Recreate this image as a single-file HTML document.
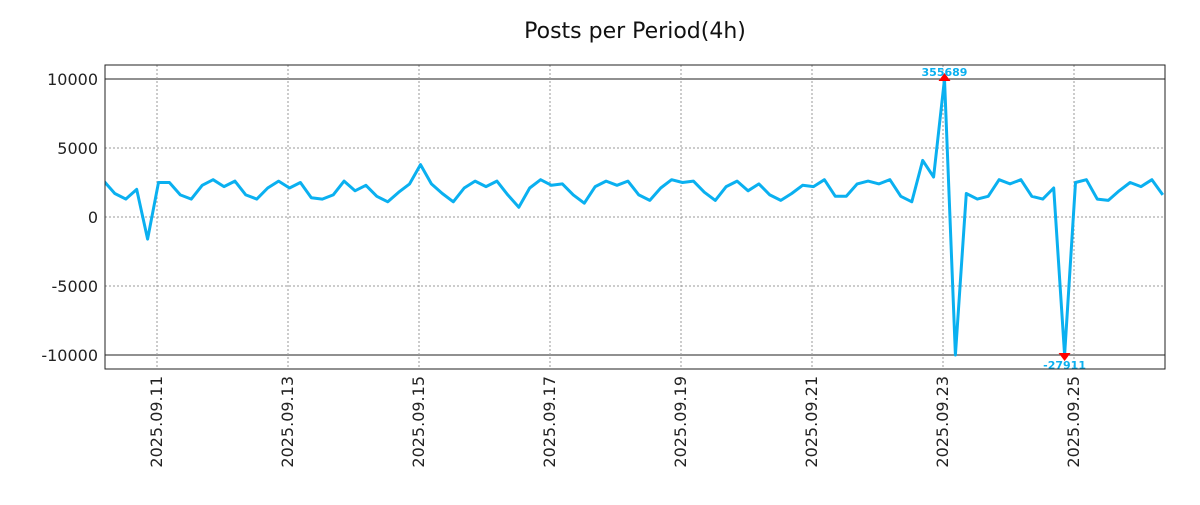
<!DOCTYPE html>
<html><head><meta charset="utf-8"><style>
body{margin:0;background:#fff;}
svg{font-family:"DejaVu Sans","Liberation Sans",sans-serif;}
</style></head><body>
<svg id="chart" width="1200" height="500" xmlns="http://www.w3.org/2000/svg">
<text x="635" y="38" text-anchor="middle" font-size="22" fill="#111">Posts per Period(4h)</text>
<g id="grid"></g><g id="series"></g><g id="axes"></g>
</svg>
<script>
const values=[2600,1700,1300,2000,-1600,2500,2500,1600,1300,2300,2700,2200,2600,1600,1300,2100,2600,2100,2500,1400,1300,1600,2600,1900,2300,1500,1100,1800,2400,3800,2400,1700,1100,2100,2600,2200,2600,1600,700,2100,2700,2300,2400,1600,1000,2200,2600,2300,2600,1600,1200,2100,2700,2500,2600,1800,1200,2200,2600,1900,2400,1600,1200,1700,2300,2200,2700,1500,1500,2400,2600,2400,2700,1500,1100,4100,2900,355689,-12000,1700,1300,1500,2700,2400,2700,1500,1300,2100,-27911,2500,2700,1300,1200,1900,2500,2200,2700,1600];
const yTicks=[10000,5000,0,-5000,-10000];
const yTickLabels=["10000","5000","0","-5000","-10000"];
const xTickLabels=["2025.09.11","2025.09.13","2025.09.15","2025.09.17","2025.09.19","2025.09.21","2025.09.23","2025.09.25"];
const xTickDays=[1,3,5,7,9,11,13,15];
const L=105,R=1165,T=65,B=369;
const yClip=10000;
function y(v){return 217-v*0.0138;}
function xDay(d){return 157+(d-1)*65.5;}
function xIdx(i){return xDay(4/24+i*4/24)+1.5;}
const NS="http://www.w3.org/2000/svg";
function mk(tag,attrs,parent,text){const e=document.createElementNS(NS,tag);for(const k in attrs)e.setAttribute(k,attrs[k]);if(text!==undefined)e.textContent=text;parent.appendChild(e);return e;}
const grid=document.getElementById('grid'),ser=document.getElementById('series'),ax=document.getElementById('axes');
yTicks.forEach((t,i)=>{
  const yy=y(t);
  const g=mk('line',{x1:L,x2:R,y1:yy,y2:yy,stroke:Math.abs(t)===10000?'#222':'#999','stroke-width':1,'stroke-dasharray':Math.abs(t)===10000?'':'2,2'},grid);
  
  
  const lb=mk('text',{x:98,y:yy+6,'text-anchor':'end','font-size':16,fill:'#222'},ax,yTickLabels[i]);
  
  
});
xTickDays.forEach((d,i)=>{
  const xx=xDay(d);
  const g=mk('line',{x1:xx,x2:xx,y1:T,y2:B,stroke:'#999','stroke-width':1,'stroke-dasharray':'2,2'},grid);
  
  
  const lb=mk('text',{x:0,y:0,'text-anchor':'end','font-size':16,fill:'#222',transform:`translate(${xx+5},376) rotate(-90)`},ax,xTickLabels[i]);
  
  
});
const clipDef=mk('clipPath',{id:'pc'},document.getElementById('chart'));
mk('rect',{x:L,y:T,width:R-L,height:B-T},clipDef);
const pts=values.map((v,i)=>xIdx(i).toFixed(1)+','+y(Math.max(-yClip,Math.min(yClip,v))).toFixed(1)).join(' ');
const pl=mk('polyline',{points:pts,fill:'none',stroke:'#0ab0f0','stroke-width':3,'stroke-linejoin':'round','clip-path':'url(#pc)'},ser);


let mi=0,ni=0;values.forEach((v,i)=>{if(v>values[mi])mi=i;if(v<values[ni])ni=i;});
const mx=xIdx(mi),my=y(Math.min(yClip,values[mi]));
const mT=mk('polygon',{points:`${mx-6},${my+2} ${mx+6},${my+2} ${mx},${my-6}`,fill:'#f00'},ser);


const mL=mk('text',{x:mx,y:my-3,'text-anchor':'middle','font-size':11,'font-weight':'bold',fill:'#0ab0f0'},ser,String(values[mi]));


const nx=xIdx(ni),ny=y(Math.max(-yClip,values[ni]));
const nT=mk('polygon',{points:`${nx-6},${ny-2} ${nx+6},${ny-2} ${nx},${ny+6}`,fill:'#f00'},ser);


const nL=mk('text',{x:nx,y:ny+14,'text-anchor':'middle','font-size':11,'font-weight':'bold',fill:'#0ab0f0'},ser,String(values[ni]));


const fr=mk('rect',{x:L,y:T,width:R-L,height:B-T,fill:'none',stroke:'#222','stroke-width':1},ax);


</script>
</body></html>
